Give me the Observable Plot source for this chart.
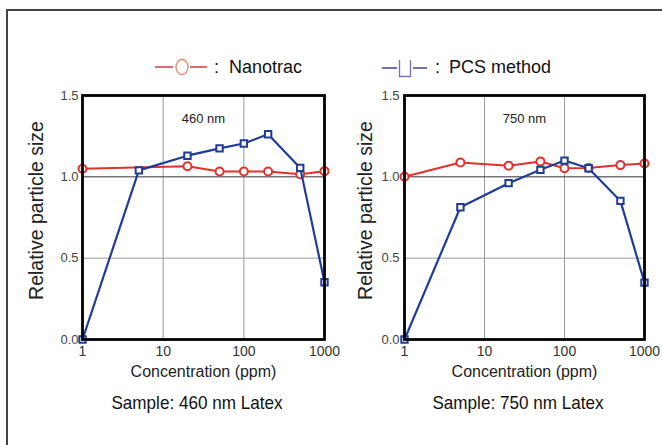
<!DOCTYPE html>
<html>
<head>
<meta charset="utf-8">
<script src="https://cdn.jsdelivr.net/npm/d3@7"></script>
<script src="https://cdn.jsdelivr.net/npm/@observablehq/plot@0.6"></script>
<style>
  html, body { margin: 0; padding: 0; background: #fff; }
  body { width: 662px; height: 445px; position: relative; overflow: hidden;
         font-family: "Liberation Sans", Arial, sans-serif; }
  #frame { position: absolute; left: 6px; top: 9px; width: 700px; height: 500px;
           border-left: 2px solid #444; border-top: 2px solid #444; }
  .abs { position: absolute; }
  .caption { font-size: 19px; color: #111; text-align: center; width: 300px; line-height: 20px;
             transform: scaleX(0.9); transform-origin: 50% 50%; }
</style>
</head>
<body>
<div id="frame"></div>
<svg id="legend" class="abs" style="left:0; top:50px;" width="662" height="32"></svg>
<div id="chart1" class="abs" style="left:0px; top:85px;"></div>
<div id="chart2" class="abs" style="left:330px; top:85px;"></div>
<div class="abs caption" style="left:47px; top:393px;">Sample: 460 nm Latex</div>
<div class="abs caption" style="left:368px; top:393px;">Sample: 750 nm Latex</div>
<script>
// ---- data ----
const concentration = [1, 5, 20, 50, 100, 200, 500, 1000];
const xTicks = [1, 10, 100, 1000];
const yTicks = [0, 0.5, 1.0, 1.5];
const seriesNames = ["Nanotrac", "PCS method"];

// 460 nm Latex
const nano460x = [1, 20, 50, 100, 200, 500, 1000];
const nano460 = [1.05, 1.065, 1.033, 1.033, 1.033, 1.016, 1.035];
const pcs460 = [0.0, 1.04, 1.13, 1.175, 1.205, 1.262, 1.055, 0.352];

// 750 nm Latex
const nano750x = [1, 5, 20, 50, 100, 200, 500, 1000];
const nano750 = [1.0, 1.088, 1.068, 1.094, 1.053, 1.055, 1.072, 1.082];
const pcs750 = [0.0, 0.813, 0.961, 1.043, 1.10, 1.053, 0.852, 0.35];

const panelTitles = ["460 nm", "750 nm"];

const RED = "#e2312b";
const BLUE = "#1f3c98";
const FONT = '"Liberation Sans", Arial, sans-serif';

function makeChart({nx, ny, py, title, width, marginLeft, marginRight, labelDx, yPad}) {
  const nanoData = nx.map((x, i) => ({x, y: ny[i]}));
  const pcsData = concentration.map((x, i) => ({x, y: py[i]}));
  return Plot.plot({
    width, height: 300,
    marginLeft, marginRight, marginTop: 10, marginBottom: 46,
    style: {fontFamily: FONT, background: "transparent", overflow: "visible"},
    x: {type: "log", domain: [1, 1000], ticks: xTicks, tickFormat: d => String(d)},
    y: {domain: [0, 1.5], ticks: yTicks, tickFormat: d => d.toFixed(1)},
    marks: [
      Plot.frame({fill: "white"}),
      Plot.gridX([10, 100], {stroke: "#999", strokeOpacity: 1, strokeWidth: 1}),
      Plot.gridY([0.5], {stroke: "#999", strokeOpacity: 1, strokeWidth: 1}),
      Plot.gridY([1.0], {stroke: "#333", strokeOpacity: 1, strokeWidth: 1}),
      Plot.axisX({ticks: xTicks, tickSize: 0, tickPadding: 7, fontSize: 14, fill: "#333",
                  label: null, tickFormat: d => String(d)}),
      Plot.axisY({ticks: yTicks, tickSize: 0, tickPadding: yPad, fontSize: 13, fill: "#444",
                  label: null, tickFormat: d => d.toFixed(1)}),
      Plot.text(["Concentration (ppm)"], {frameAnchor: "bottom", dy: 37, text: d => d,
                  fontSize: 16, fill: "#222"}),
      Plot.text(["Relative particle size"], {frameAnchor: "left", textAnchor: "middle", dx: labelDx, dy: -7, rotate: -90,
                  text: d => d, fontSize: 19.5, fill: "#222"}),
      Plot.text([title], {frameAnchor: "top", dy: 18.5, text: d => d, fontSize: 13, fill: "#222"}),
      Plot.line(nanoData, {x: "x", y: "y", stroke: RED, strokeWidth: 2}),
      Plot.dot(nanoData, {x: "x", y: "y", r: 4, stroke: RED, strokeWidth: 2, fill: "white"}),
      Plot.line(pcsData, {x: "x", y: "y", stroke: BLUE, strokeWidth: 2.2}),
      Plot.dot(pcsData, {x: "x", y: "y", symbol: "square", r: 3.6, stroke: BLUE, strokeWidth: 2, fill: "white"}),
      Plot.frame({stroke: "#000", strokeWidth: 2.8})
    ]
  });
}

document.getElementById("chart1").append(makeChart({
  nx: nano460x, ny: nano460, py: pcs460, title: panelTitles[0],
  width: 335, marginLeft: 82, marginRight: 11, labelDx: -46, yPad: 4
}));
document.getElementById("chart2").append(makeChart({
  nx: nano750x, ny: nano750, py: pcs750, title: panelTitles[1],
  width: 332, marginLeft: 74, marginRight: 18, labelDx: -39, yPad: 5
}));

// legend
const ns = "http://www.w3.org/2000/svg";
const lg = document.getElementById("legend");
function el(tag, attrs) {
  const e = document.createElementNS(ns, tag);
  for (const k in attrs) e.setAttribute(k, attrs[k]);
  lg.append(e);
  return e;
}
// Nanotrac entry (y relative to svg top = 50)
el("line", {x1: 155, x2: 173, y1: 17, y2: 17, stroke: "#d04848", "stroke-width": 1.6});
el("ellipse", {cx: 182, cy: 17, rx: 6, ry: 7.5, fill: "none", stroke: "#e08866", "stroke-width": 1.3});
el("line", {x1: 190, x2: 207, y1: 17, y2: 17, stroke: "#d04848", "stroke-width": 1.6});
el("text", {x: 214, y: 23, "font-size": 18, fill: "#111"}).textContent = ":";
el("text", {x: 229, y: 23, "font-size": 18, fill: "#111"}).textContent = seriesNames[0];
// PCS entry
el("line", {x1: 382, x2: 397, y1: 18, y2: 18, stroke: "#4a50a0", "stroke-width": 1.6});
el("path", {d: "M399.5,10 V26.5 H410.5 V10", fill: "none", stroke: "#7075b8", "stroke-width": 1.3});
el("line", {x1: 413, x2: 427, y1: 18, y2: 18, stroke: "#4a50a0", "stroke-width": 1.6});
el("text", {x: 435, y: 23, "font-size": 18, fill: "#111"}).textContent = ":";
el("text", {x: 449, y: 23, "font-size": 18, fill: "#111"}).textContent = seriesNames[1];
</script>
</body>
</html>
